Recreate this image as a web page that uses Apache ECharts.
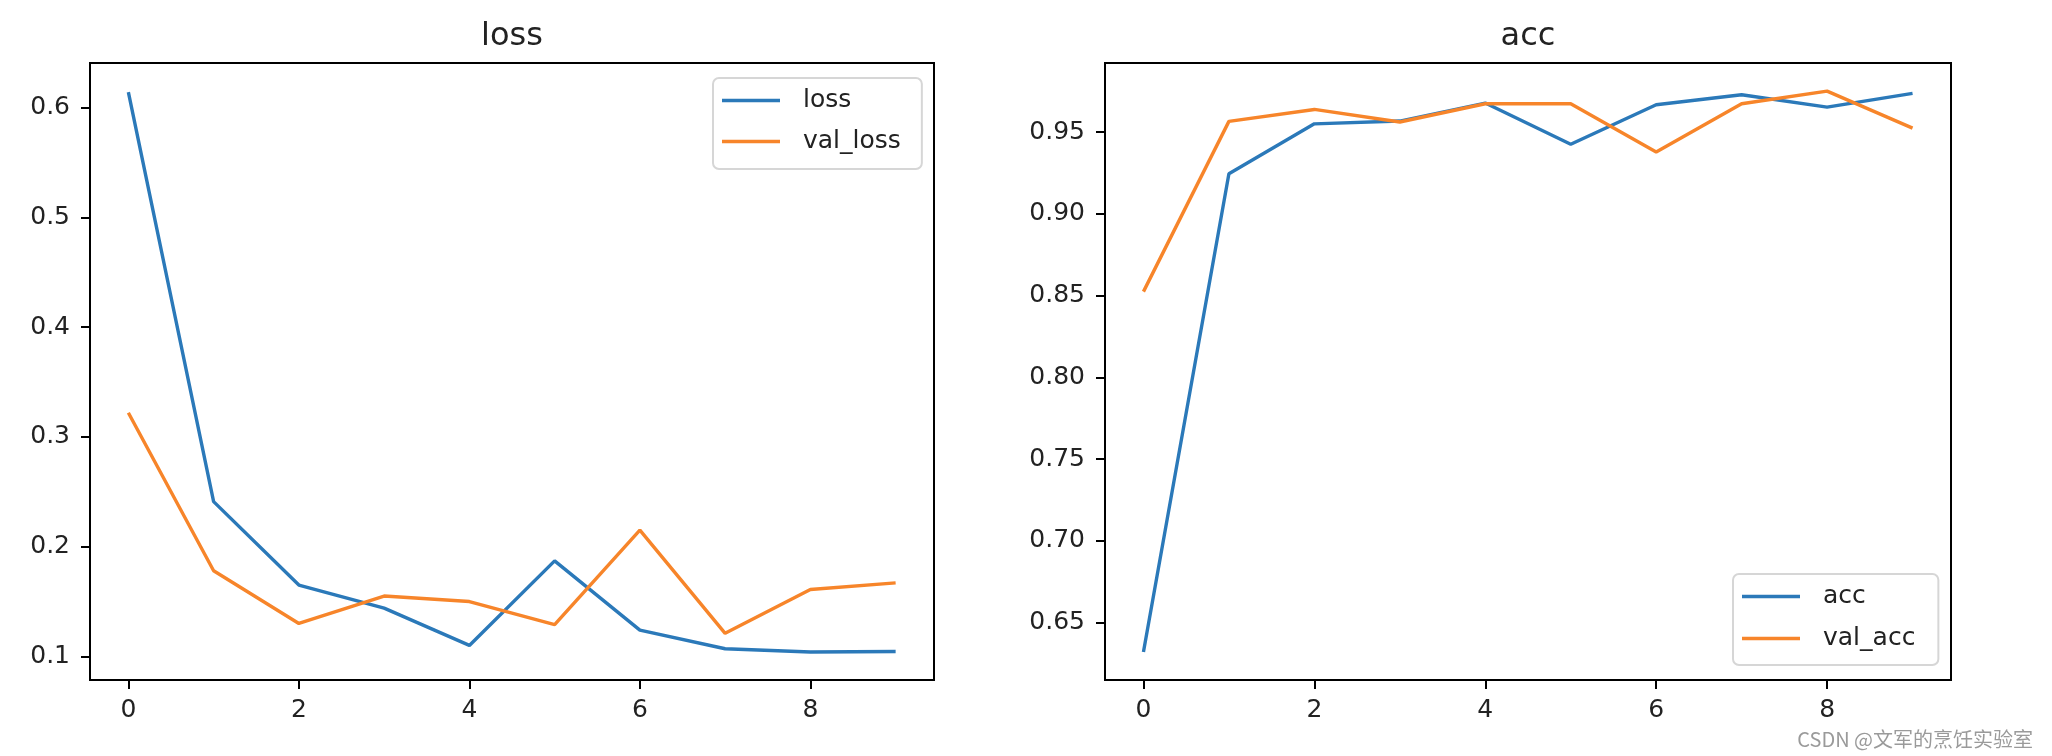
<!DOCTYPE html>
<html>
<head>
<meta charset="utf-8">
<script src="https://cdn.jsdelivr.net/npm/echarts@6/dist/echarts.min.js"></script>
<style>
  html, body { margin: 0; padding: 0; background: #fff; }
  #chart { width: 2052px; height: 756px; }
</style>
</head>
<body>
<div id="chart"></div>
<script>
// epochs on the x axis
const epochs = [0, 1, 2, 3, 4, 5, 6, 7, 8, 9];
const loss    = [0.614, 0.241, 0.165, 0.144, 0.110, 0.187, 0.124, 0.107, 0.104, 0.1045];
const valLoss = [0.322, 0.178, 0.130, 0.155, 0.150, 0.129, 0.215, 0.121, 0.161, 0.167];
const acc     = [0.632, 0.9245, 0.955, 0.9567, 0.9677, 0.9425, 0.9667, 0.9728, 0.9652, 0.9736];
const valAcc  = [0.8524, 0.9565, 0.9638, 0.9561, 0.9673, 0.9673, 0.9378, 0.9673, 0.975, 0.9524];
const xTicks = [0, 2, 4, 6, 8];
const lossTicks = [0.1, 0.2, 0.3, 0.4, 0.5, 0.6];
const accTicks = [0.65, 0.70, 0.75, 0.80, 0.85, 0.90, 0.95];

const FONT = 'DejaVu Sans';
const BLUE = '#2b79b9';
const ORANGE = '#f7852a';

function pairs(ys) {
  return epochs.map((x, i) => [x, ys[i]]);
}

function xAxis(gridIndex) {
  return {
    type: 'value', gridIndex: gridIndex,
    min: -0.45, max: 9.45,
    splitLine: { show: false },
    axisLine: { show: true, onZero: false, lineStyle: { color: '#000', width: 2 } },
    axisTick: { show: true, length: 9, lineStyle: { color: '#000', width: 2 }, customValues: xTicks },
    axisLabel: { customValues: xTicks, margin: 18, color: '#222', fontFamily: FONT, fontSize: 25 }
  };
}

function yAxis(gridIndex, min, max, ticks, digits) {
  return {
    type: 'value', gridIndex: gridIndex,
    min: min, max: max,
    splitLine: { show: false },
    axisLine: { show: true, onZero: false, lineStyle: { color: '#000', width: 2 } },
    axisTick: { show: true, length: 9, lineStyle: { color: '#000', width: 2 }, customValues: ticks },
    axisLabel: {
      customValues: ticks, margin: 20, color: '#222', fontFamily: FONT, fontSize: 25,
      formatter: v => v.toFixed(digits)
    }
  };
}

function lineSeries(name, ys, color, idx) {
  return {
    name: name, type: 'line', data: pairs(ys),
    xAxisIndex: idx, yAxisIndex: idx,
    symbol: 'none', showSymbol: false,
    lineStyle: { color: color, width: 3.4 },
    itemStyle: { color: color }
  };
}

function legend(names, left, top, padding, gap) {
  return {
    data: names, orient: 'vertical', left: left, top: top,
    icon: 'rect', itemWidth: 58, itemHeight: 3.5,
    padding: padding, itemGap: gap,
    backgroundColor: 'rgba(255,255,255,0.8)',
    borderColor: '#d6d6d6', borderWidth: 2, borderRadius: 6,
    textStyle: { fontFamily: FONT, fontSize: 25, color: '#222', padding: [0, 0, 0, 18] }
  };
}

const chart = echarts.init(document.getElementById('chart'));
chart.setOption({
  animation: false,
  backgroundColor: '#fff',
  grid: [
    { left: 90, top: 63, width: 844, height: 617, show: true, borderColor: '#000', borderWidth: 2 },
    { left: 1105, top: 63, width: 846, height: 617, show: true, borderColor: '#000', borderWidth: 2 }
  ],
  xAxis: [xAxis(0), xAxis(1)],
  yAxis: [
    yAxis(0, 0.0785, 0.6406, lossTicks, 1),
    yAxis(1, 0.6149, 0.9922, accTicks, 2)
  ],
  legend: [
    legend(['loss', 'val_loss'], 713, 78, [10, 21, 15, 9], 16),
    legend(['acc', 'val_acc'], 1733, 574, [10, 23, 14, 9], 17)
  ],
  graphic: [
    { type: 'text', x: 512, y: 37, style: { text: 'loss', font: '32px "DejaVu Sans"', fill: '#222', textAlign: 'center', textVerticalAlign: 'middle' } },
    { type: 'text', x: 1528, y: 37, style: { text: 'acc', font: '32px "DejaVu Sans"', fill: '#222', textAlign: 'center', textVerticalAlign: 'middle' } },
    { type: 'text', x: 2033, y: 739, style: { text: 'CSDN @文军的烹饪实验室', font: '20px "Noto Sans CJK SC"', fill: '#9a9a9a', textAlign: 'right', textVerticalAlign: 'middle' } }
  ],
  series: [
    lineSeries('loss', loss, BLUE, 0),
    lineSeries('val_loss', valLoss, ORANGE, 0),
    lineSeries('acc', acc, BLUE, 1),
    lineSeries('val_acc', valAcc, ORANGE, 1)
  ]
});
</script>
</body>
</html>
